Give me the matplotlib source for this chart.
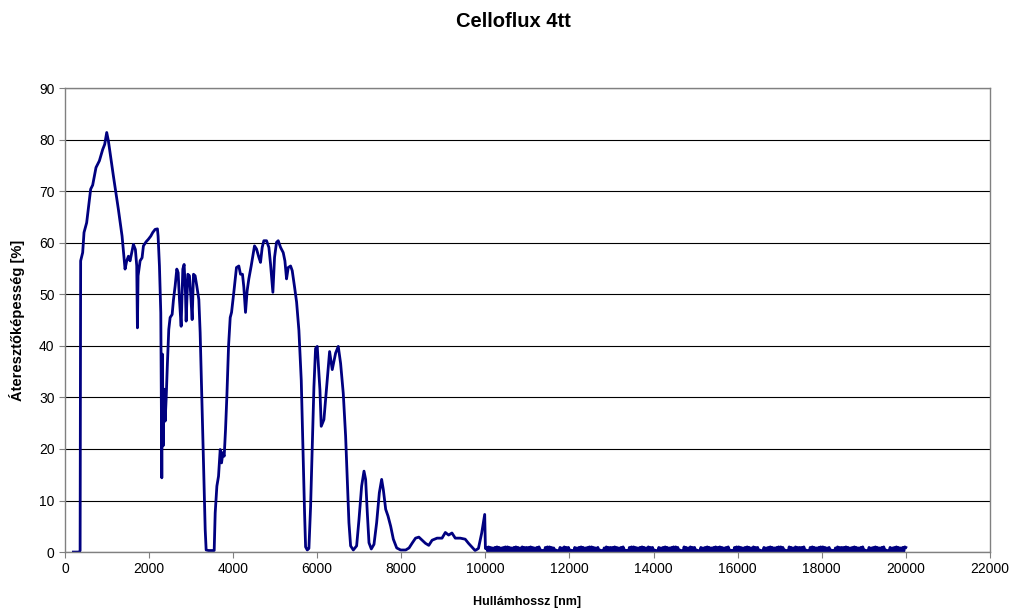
import numpy as np
import matplotlib.pyplot as plt

# Transmission spectrum (wavelength in nm, transmission in %)
wavelength = [
    200, 280, 340, 360, 373, 421, 453, 516, 611, 659, 738, 818, 897, 945, 993,
    1032, 1151, 1270, 1358, 1429, 1469, 1509, 1548, 1588, 1628, 1675, 1707,
    1723, 1739, 1787, 1834, 1866, 1930, 1985, 2041, 2088, 2144, 2199, 2215,
    2247, 2279, 2303, 2318, 2334, 2358, 2382, 2406, 2437, 2469, 2501, 2549,
    2581, 2620, 2660, 2692, 2723, 2763, 2803, 2834, 2866, 2882, 2922, 2961,
    2993, 3025, 3057, 3096, 3136, 3184, 3215, 3255, 3295, 3335, 3358, 3414,
    3549, 3573, 3613, 3652, 3692, 3724, 3756, 3787, 3819, 3851, 3891, 3930,
    3962, 4016, 4079, 4135, 4175, 4222, 4254, 4294, 4333, 4373, 4429, 4476,
    4508, 4556, 4611, 4651, 4691, 4730, 4794, 4850, 4889, 4945, 4985, 5032,
    5072, 5128, 5191, 5231, 5270, 5310, 5366, 5405, 5461, 5509, 5564, 5620,
    5659, 5699, 5723, 5763, 5802, 5842, 5882, 5921, 5960, 6000, 6064, 6095,
    6159, 6238, 6294, 6357, 6437, 6500, 6556, 6619, 6675, 6715, 6754, 6794,
    6858, 6937, 6993, 7056, 7112, 7151, 7191, 7231, 7286, 7350, 7413, 7477,
    7532, 7572, 7628, 7683, 7747, 7810, 7890, 7985, 8104, 8184, 8263, 8338,
    8417, 8496, 8574, 8653, 8732, 8850, 8968, 9047, 9125, 9204, 9283, 9401,
    9519, 9598, 9676, 9755, 9834, 9912, 9983, 10000,
]
transmission = [
    0.0, 0.0, 0.0, 0.3, 56.5, 58.1, 62.0, 63.9, 70.4, 71.2, 74.6, 75.9, 78.1,
    79.1, 81.4, 79.8, 73.0, 66.5, 61.3, 54.9, 56.5, 57.4, 56.5, 58.1, 59.7,
    58.7, 55.5, 43.5, 53.6, 56.5, 57.1, 59.4, 60.2, 60.7, 61.3, 62.0, 62.6,
    62.7, 61.3, 55.5, 46.4, 14.4, 38.4, 20.6, 31.6, 25.4, 29.6, 36.7, 43.2,
    45.5, 46.1, 49.0, 51.6, 54.9, 54.2, 49.0, 43.8, 54.9, 55.8, 50.3, 44.8,
    53.9, 53.6, 49.7, 45.1, 53.9, 53.6, 51.6, 49.0, 42.6, 30.3, 17.3, 4.4,
    0.4, 0.3, 0.3, 7.6, 12.8, 14.7, 19.9, 17.3, 19.3, 18.6, 23.8, 30.3, 40.0,
    45.5, 46.5, 50.4, 55.2, 55.5, 53.9, 53.9, 51.4, 46.5, 50.7, 53.0, 55.5,
    57.8, 59.4, 58.8, 57.2, 56.2, 59.1, 60.4, 60.4, 59.1, 55.9, 50.4, 57.2,
    60.1, 60.4, 59.1, 58.1, 56.5, 53.0, 55.2, 55.5, 54.6, 51.4, 48.5, 43.0,
    33.3, 20.4, 7.5, 1.0, 0.4, 0.7, 8.8, 20.4, 32.0, 39.5, 39.9, 31.5, 24.4,
    25.7, 33.4, 38.9, 35.4, 38.6, 39.9, 36.6, 30.8, 22.5, 14.1, 5.7, 1.2,
    0.4, 1.2, 6.3, 12.8, 15.7, 14.1, 7.6, 1.8, 0.6, 1.5, 5.7, 11.5, 14.1,
    12.1, 8.3, 7.0, 5.0, 2.5, 0.8, 0.4, 0.4, 0.8, 1.8, 2.7, 2.9, 2.3, 1.7,
    1.3, 2.3, 2.7, 2.7, 3.8, 3.3, 3.7, 2.7, 2.7, 2.5, 1.7, 1.0, 0.3, 0.7,
    3.7, 7.3, 0.7,
]

# Noisy tail 10025-20000 nm (one reading every 25 nm, 20 per row)
noise_tail = [
    0.9, 0.2, 1.0, 0.1, 0.9, 0.2, 0.8, 0.1, 0.9, 0.2, 1.0, 0.2, 0.9, 0.1, 0.8, 0.2, 0.9, 0.1, 1.0, 0.2,
    1.0, 0.1, 0.9, 0.2, 0.8, 0.2, 0.9, 0.1, 1.0, 0.2, 0.9, 0.1, 0.8, 0.2, 1.0, 0.1, 0.9, 0.2, 0.9, 0.1,
    0.9, 0.2, 1.0, 0.1, 0.9, 0.2, 0.8, 0.1, 0.9, 0.2, 1.0, 0.2, 0.4, 0.0, 0.3, 0.0, 0.9, 0.1, 1.0, 0.2,
    1.0, 0.1, 0.9, 0.2, 0.8, 0.2, 0.4, 0.0, 0.3, 0.0, 0.9, 0.1, 0.8, 0.2, 1.0, 0.1, 0.9, 0.2, 0.9, 0.1,
    0.4, 0.0, 0.3, 0.0, 0.9, 0.2, 0.8, 0.1, 0.9, 0.2, 1.0, 0.2, 0.9, 0.1, 0.8, 0.2, 0.9, 0.1, 1.0, 0.2,
    1.0, 0.1, 0.9, 0.2, 0.8, 0.2, 0.9, 0.1, 0.4, 0.0, 0.3, 0.0, 0.8, 0.2, 1.0, 0.1, 0.9, 0.2, 0.9, 0.1,
    0.9, 0.2, 1.0, 0.1, 0.9, 0.2, 0.8, 0.1, 0.9, 0.2, 1.0, 0.2, 0.4, 0.0, 0.3, 0.0, 0.9, 0.1, 1.0, 0.2,
    1.0, 0.1, 0.9, 0.2, 0.8, 0.2, 0.9, 0.1, 1.0, 0.2, 0.9, 0.1, 0.8, 0.2, 1.0, 0.1, 0.9, 0.2, 0.9, 0.1,
    0.4, 0.0, 0.3, 0.0, 0.9, 0.2, 0.8, 0.1, 0.9, 0.2, 1.0, 0.2, 0.9, 0.1, 0.8, 0.2, 0.9, 0.1, 1.0, 0.2,
    1.0, 0.1, 0.9, 0.2, 0.4, 0.0, 0.3, 0.0, 1.0, 0.2, 0.9, 0.1, 0.8, 0.2, 1.0, 0.1, 0.9, 0.2, 0.9, 0.1,
    0.4, 0.0, 0.3, 0.0, 0.9, 0.2, 0.8, 0.1, 0.9, 0.2, 1.0, 0.2, 0.9, 0.1, 0.8, 0.2, 0.9, 0.1, 1.0, 0.2,
    0.9, 0.1, 1.0, 0.2, 0.9, 0.1, 0.8, 0.2, 0.9, 0.1, 1.0, 0.2, 0.4, 0.0, 0.3, 0.0, 0.9, 0.2, 1.0, 0.1,
    1.0, 0.1, 0.9, 0.2, 0.8, 0.2, 0.9, 0.1, 1.0, 0.2, 0.9, 0.1, 0.8, 0.2, 1.0, 0.1, 0.9, 0.2, 0.9, 0.1,
    0.4, 0.0, 0.3, 0.0, 0.9, 0.2, 0.8, 0.1, 0.9, 0.2, 1.0, 0.2, 0.9, 0.1, 0.8, 0.2, 0.9, 0.1, 1.0, 0.2,
    1.0, 0.1, 0.9, 0.2, 0.4, 0.0, 0.3, 0.0, 1.0, 0.2, 0.9, 0.1, 0.8, 0.2, 1.0, 0.1, 0.9, 0.2, 0.9, 0.1,
    0.9, 0.2, 1.0, 0.1, 0.4, 0.0, 0.3, 0.0, 0.9, 0.1, 1.0, 0.2, 0.9, 0.1, 0.8, 0.2, 0.9, 0.1, 1.0, 0.2,
    1.0, 0.1, 0.9, 0.2, 0.8, 0.2, 0.9, 0.1, 0.4, 0.0, 0.3, 0.0, 0.8, 0.2, 1.0, 0.1, 0.9, 0.2, 0.9, 0.1,
    0.9, 0.2, 1.0, 0.1, 0.9, 0.2, 0.8, 0.1, 0.9, 0.2, 1.0, 0.2, 0.9, 0.1, 0.8, 0.2, 0.9, 0.1, 1.0, 0.2,
    0.4, 0.0, 0.3, 0.0, 0.9, 0.2, 0.8, 0.1, 0.9, 0.2, 1.0, 0.2, 0.9, 0.1, 0.8, 0.2, 0.9, 0.1, 1.0, 0.2,
    0.4, 0.0, 0.3, 0.0, 0.9, 0.2, 0.8, 0.1, 0.9, 0.2, 1.0, 0.2, 0.9, 0.1, 0.8, 0.2, 0.9, 0.1, 1.0, 0.9,
]
tail_wavelength = np.linspace(10025, 20000, len(noise_tail))

x_all = np.concatenate([wavelength, tail_wavelength])
y_all = np.concatenate([transmission, noise_tail])

plt.rcParams['font.family'] = ['Liberation Sans', 'DejaVu Sans']

fig = plt.figure(figsize=(10.12, 6.08), dpi=100)
ax = fig.add_axes([0.0642, 0.092, 0.914, 0.763])

ax.plot(x_all, y_all, color='#000080', linewidth=2.0, solid_joinstyle='round')

ax.set_xlim(0, 22000)
ax.set_ylim(0, 90)
ax.set_xticks(np.arange(0, 22001, 2000))
ax.set_yticks(np.arange(0, 91, 10))
ax.yaxis.grid(True, color='black', linewidth=0.8)
ax.set_axisbelow(True)
ax.tick_params(axis='both', labelsize=10, length=4, width=0.8, color='#808080')

for side in ['left', 'bottom', 'right', 'top']:
    ax.spines[side].set_color('#808080')
    ax.spines[side].set_linewidth(1.0)

ax.set_xlabel('Hullámhossz [nm]', fontsize=9, fontweight='bold', labelpad=14)
ax.set_ylabel('Áteresztőképesség [%]', fontsize=10.5, fontweight='bold', labelpad=10)

# title sits near the top of the figure, as in the original
fig.text(0.507, 0.964, 'Celloflux 4tt', fontsize=14.5, fontweight='bold',
         ha='center', va='center')

plt.savefig('out.png', dpi=100, facecolor='white')
plt.close()
